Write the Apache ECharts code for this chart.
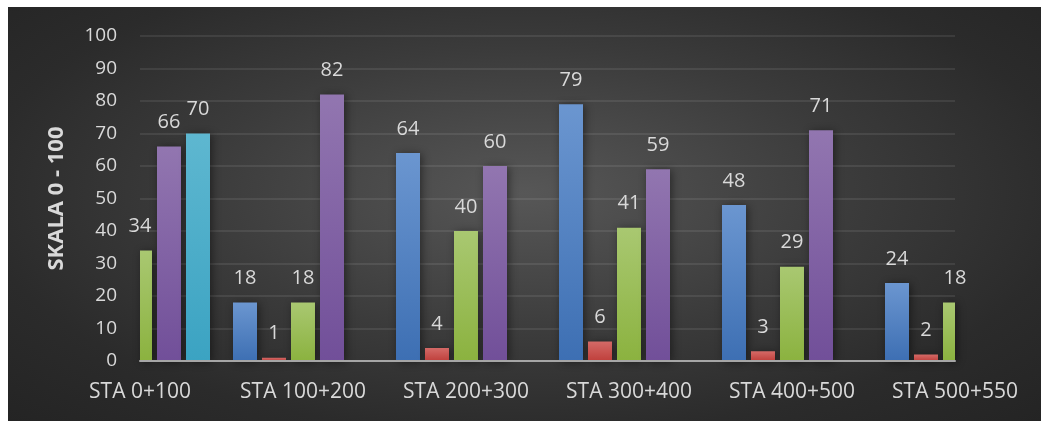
<!DOCTYPE html>
<html>
<head>
<meta charset="utf-8">
<script src="https://cdn.jsdelivr.net/npm/echarts@6/dist/echarts.min.js"></script>
<style>
  html, body { margin: 0; padding: 0; background: #ffffff; }
  #chart {
    position: absolute; left: 8px; top: 7px; width: 1033px; height: 414px;
    background: radial-gradient(ellipse at 50% 45%, #575757 0%, #3b3b3b 45%, #2b2b2b 75%, #242424 100%);
  }
</style>
</head>
<body>
<div id="chart"></div>
<script>
// Station ranges along the route
const categories = ['STA 0+100', 'STA 100+200', 'STA 200+300', 'STA 300+400', 'STA 400+500', 'STA 500+550'];

// Scores per station range, scale 0 - 100 (null = no value)
const seriesNames = ['Seri 1', 'Seri 2', 'Seri 3', 'Seri 4', 'Seri 5'];
const blueValues   = [null, 18, 64, 79, 48, 24];
const redValues    = [null, 1, 4, 6, 3, 2];
const greenValues  = [34, 18, 40, 41, 29, 18];
const purpleValues = [66, 82, 60, 59, 71, null];
const cyanValues   = [70, null, null, null, null, null];

// Value axis
const yMin = 0, yMax = 100, yStep = 10;
const yAxisTitle = 'SKALA 0 - 100';

const textColor = '#d9d9d9';
const fontFamily = '"Open Sans", "Liberation Sans", Arial, sans-serif';

// Bar look: each group of five bars is centred on its category tick
const BAR_W = 24;
const BAR_GAP = 5;
const LABEL_DIST = 14;

const palette = [
  ['#6b96d0', '#3d6fb3'],
  ['#d46a67', '#bf3f3b'],
  ['#a9c871', '#8bb23f'],
  ['#9276b0', '#714f99'],
  ['#5eb7d0', '#3ba3c2']
];

const allValues = [blueValues, redValues, greenValues, purpleValues, cyanValues];
const seriesCount = allValues.length;

// Bars are drawn with a custom series so that the outer bars are clipped
// at the plot edges while their value labels stay centred on the full bar.
function makeRenderItem(pos, colors) {
  return function (params, api) {
    const v = api.value(1);
    if (v == null || isNaN(v)) return null;
    const base = api.coord([api.value(0), 0]);
    const top = api.coord([api.value(0), v]);
    const cx = base[0] + (pos - (seriesCount - 1) / 2) * (BAR_W + BAR_GAP);
    const cs = params.coordSys;
    const clipped = echarts.graphic.clipRectByRect(
      { x: cx - BAR_W / 2, y: top[1], width: BAR_W, height: base[1] - top[1] },
      { x: cs.x, y: cs.y, width: cs.width, height: cs.height }
    );
    const children = [];
    if (clipped) {
      children.push({
        type: 'rect',
        shape: clipped,
        style: {
          fill: new echarts.graphic.LinearGradient(0, 0, 0, 1, [
            { offset: 0, color: colors[0] },
            { offset: 1, color: colors[1] }
          ]),
          shadowBlur: 8,
          shadowColor: 'rgba(0,0,0,0.45)',
          shadowOffsetX: 2,
          shadowOffsetY: 1
        }
      });
    }
    children.push({
      type: 'text',
      z2: 10,
      style: {
        text: String(v),
        x: cx,
        y: top[1] - LABEL_DIST,
        align: 'center',
        verticalAlign: 'bottom',
        fill: textColor,
        fontFamily: fontFamily,
        fontSize: 20
      }
    });
    return { type: 'group', children: children };
  };
}

function customBarSeries(name, values, pos) {
  return {
    name: name,
    type: 'custom',
    renderItem: makeRenderItem(pos, palette[pos]),
    encode: { x: 0, y: 1 },
    data: values.map((v, i) => [i, v == null ? '-' : v]),
    z: 2
  };
}

const chart = echarts.init(document.getElementById('chart'));
chart.setOption({
  backgroundColor: 'transparent',
  animation: false,
  grid: { left: 132, right: 86, top: 29, bottom: 60, containLabel: false },
  xAxis: {
    type: 'category',
    data: categories,
    boundaryGap: false,
    z: 5,
    axisLine: { show: true, lineStyle: { color: '#a6a6a6', width: 2 } },
    axisTick: { show: false },
    splitLine: { show: false },
    axisLabel: {
      color: textColor,
      fontFamily: fontFamily,
      fontSize: 21,
      margin: 21,
      interval: 0
    }
  },
  yAxis: {
    type: 'value',
    min: yMin,
    max: yMax,
    interval: yStep,
    name: yAxisTitle,
    nameLocation: 'middle',
    nameRotate: 90,
    nameGap: 72,
    nameTextStyle: {
      color: textColor,
      fontFamily: fontFamily,
      fontSize: 22,
      fontWeight: 'bold'
    },
    axisLine: { show: false },
    axisTick: { show: false },
    splitLine: { lineStyle: { color: 'rgba(255,255,255,0.11)', width: 1.5 } },
    axisLabel: {
      color: textColor,
      fontFamily: fontFamily,
      fontSize: 19,
      margin: 23
    }
  },
  series: allValues.map((vals, i) => customBarSeries(seriesNames[i], vals, i))
});
</script>
</body>
</html>
